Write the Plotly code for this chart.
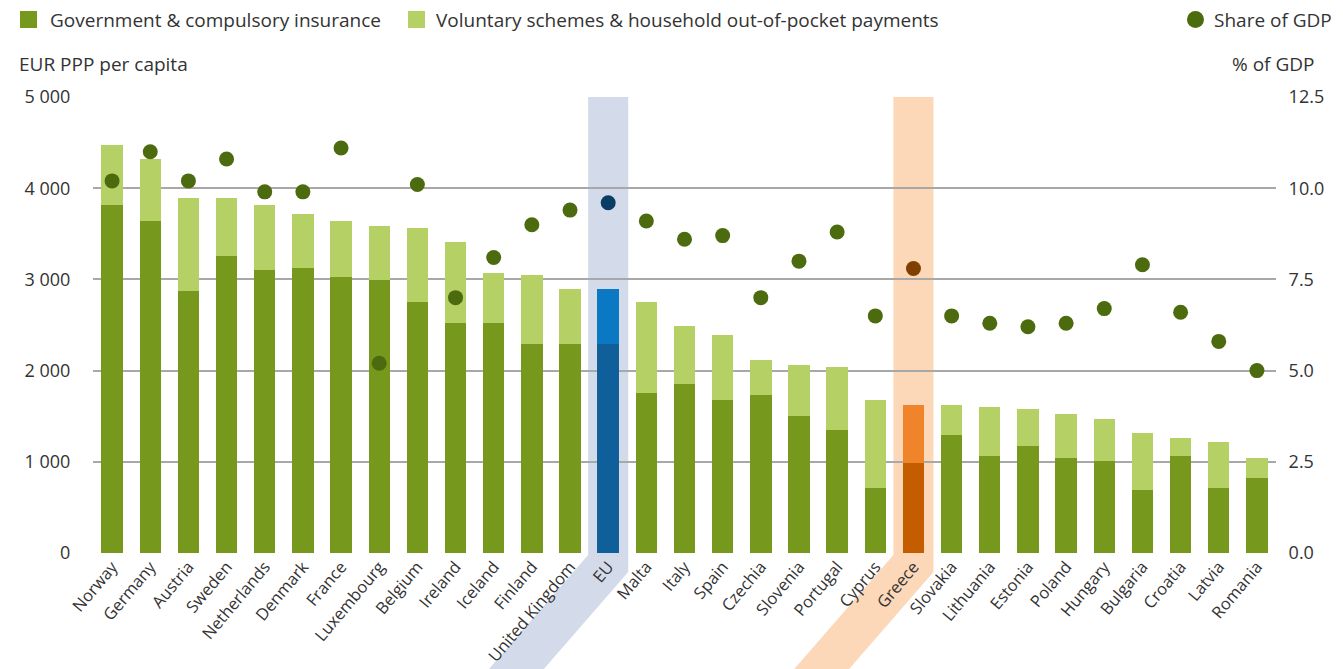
import plotly.graph_objects as go

# ---------------- data ----------------
countries = ["Norway", "Germany", "Austria", "Sweden", "Netherlands", "Denmark", "France",
             "Luxembourg", "Belgium", "Ireland", "Iceland", "Finland", "United Kingdom", "EU",
             "Malta", "Italy", "Spain", "Czechia", "Slovenia", "Portugal", "Cyprus", "Greece",
             "Slovakia", "Lithuania", "Estonia", "Poland", "Hungary", "Bulgaria", "Croatia",
             "Latvia", "Romania"]
government = [3815, 3640, 2872, 3256, 3100, 3124, 3024, 2993, 2748, 2520, 2520, 2290, 2290, 2289,
              1753, 1857, 1678, 1731, 1499, 1350, 712, 990, 1295, 1065, 1174, 1041, 1012, 688,
              1065, 712, 818]
voluntary = [657, 679, 1018, 634, 711, 588, 611, 589, 811, 885, 551, 757, 604, 605,
             995, 632, 710, 381, 559, 686, 963, 633, 328, 535, 404, 484, 458, 630,
             200, 508, 223]
share_gdp = [10.2, 11.0, 10.2, 10.8, 9.9, 9.9, 11.1, 5.2, 10.1, 7.0, 8.1, 9.0, 9.4, 9.6,
             9.1, 8.6, 8.7, 7.0, 8.0, 8.8, 6.5, 7.8, 6.5, 6.3, 6.2, 6.3, 6.7, 7.9,
             6.6, 5.8, 5.0]
left_tickvals = [0, 1000, 2000, 3000, 4000, 5000]
left_ticktext = ["0", "1 000", "2 000", "3 000", "4 000", "5 000"]
right_tickvals = [0, 2.5, 5.0, 7.5, 10.0, 12.5]
right_ticktext = ["0.0", "2.5", "5.0", "7.5", "10.0", "12.5"]

# ---------------- styles ----------------
W, H = 1343, 669
ML, MR, MT, MB = 93, 67, 97, 116
PW, PH = W - ML - MR, H - MT - MB

C_GOV, C_VOL, C_DOT = "#76981c", "#b5d065", "#4b6b0e"
special = {
    "EU": dict(gov="#0f5f9a", vol="#0a78c2", dot="#0b3c63", band="#d3daea"),
    "Greece": dict(gov="#c45c00", vol="#f0842a", dot="#7e3f00", band="#fcd8b8"),
}
FONT = "Open Sans"
FS = 19
TXT = "#333333"

gov_colors = [special[c]["gov"] if c in special else C_GOV for c in countries]
vol_colors = [special[c]["vol"] if c in special else C_VOL for c in countries]
dot_colors = [special[c]["dot"] if c in special else C_DOT for c in countries]

fig = go.Figure()
fig.add_trace(go.Bar(x=countries, y=government, name="Government & compulsory insurance",
                     marker=dict(color=gov_colors, line=dict(width=0)), width=0.56,
                     showlegend=False))
fig.add_trace(go.Bar(x=countries, y=voluntary,
                     name="Voluntary schemes & household out-of-pocket payments",
                     marker=dict(color=vol_colors, line=dict(width=0)), width=0.56,
                     showlegend=False))
fig.add_trace(go.Scatter(x=countries, y=share_gdp, yaxis="y2", mode="markers",
                         name="Share of GDP",
                         marker=dict(color=dot_colors, size=15, line=dict(width=0)),
                         showlegend=False))


def px_x(X):
    return (X - ML) / PW


def px_y(Y):
    return (H - MB - Y) / PH


n = len(countries)
shapes = []
for name, st in special.items():
    i = countries.index(name)
    xc = ML + (i + 0.5) * PW / n
    hw = 0.525 * PW / n
    yl_break, yr_break, ybot = H - MB + 2, H - MB + 19, H + 20
    k = 0.87
    xl, xr = xc - hw, xc + hw
    pts = [(xl, MT), (xr, MT), (xr, yr_break), (xr - k * (ybot - yr_break), ybot),
           (xl - k * (ybot - yl_break), ybot), (xl, yl_break)]
    path = "M " + " L ".join(f"{px_x(a):.5f},{px_y(b):.5f}" for a, b in pts) + " Z"
    shapes.append(dict(type="path", xref="paper", yref="paper", path=path,
                       fillcolor=st["band"], line=dict(width=0), layer="below"))

# legend (manual)
def sq(x0, color):
    return dict(type="rect", xref="paper", yref="paper", x0=px_x(x0), x1=px_x(x0 + 17),
                y0=px_y(28), y1=px_y(11), fillcolor=color, line=dict(width=0))

shapes.append(sq(20, C_GOV))
shapes.append(sq(408, C_VOL))
shapes.append(dict(type="circle", xref="paper", yref="paper", x0=px_x(1187), x1=px_x(1204),
                   y0=px_y(28), y1=px_y(11), fillcolor=C_DOT, line=dict(width=0)))

ann_font = dict(family=FONT, size=FS, color=TXT)
annotations = [
    dict(text="Government & compulsory insurance", x=px_x(48), y=px_y(19.5)),
    dict(text="Voluntary schemes & household out-of-pocket payments", x=px_x(434), y=px_y(19.5)),
    dict(text="Share of GDP", x=px_x(1334), y=px_y(19.5), xanchor="right"),
    dict(text="EUR PPP per capita", x=px_x(17), y=px_y(64)),
    dict(text="% of GDP", x=px_x(1316), y=px_y(64), xanchor="right"),
]
for a in annotations:
    a.setdefault("xanchor", "left")
    a.update(xref="paper", yref="paper", yanchor="middle", showarrow=False, font=ann_font)

fig.update_layout(
    width=W, height=H,
    margin=dict(l=ML, r=MR, t=MT, b=MB, pad=0, autoexpand=False),
    paper_bgcolor="white", plot_bgcolor="rgba(0,0,0,0)",
    barmode="stack", bargap=0.44,
    font=dict(family=FONT, size=FS, color=TXT),
    showlegend=False,
    shapes=shapes, annotations=annotations,
    xaxis=dict(type="category", range=[-0.5, n - 0.5], tickangle=-50, automargin=False,
               tickfont=dict(family=FONT, size=16.5, color=TXT), showgrid=False,
               showline=False, ticks=""),
    yaxis=dict(range=[0, 5000], tickvals=left_tickvals, ticktext=left_ticktext,
               automargin=False,
               showgrid=True, gridcolor="#a8a8a8", gridwidth=1.5, zeroline=False,
               ticks="outside", ticklen=18, tickcolor="rgba(0,0,0,0)",
               tickfont=dict(family=FONT, size=FS - 1, color=TXT)),
    yaxis2=dict(range=[0, 12.5], overlaying="y", side="right", tickvals=right_tickvals,
                ticktext=right_ticktext, showgrid=False, zeroline=False, automargin=False,
                ticks="outside", ticklen=8, tickcolor="rgba(0,0,0,0)",
                tickfont=dict(family=FONT, size=FS - 1, color=TXT)),
)

fig.write_html("out.html", config={"displayModeBar": False})

# remove the default page margin so the figure sits at the window's top-left corner
with open("out.html", encoding="utf-8") as f:
    html = f.read()
html = html.replace("<head>", "<head><style>html,body{margin:0;padding:0;overflow:hidden}</style>", 1)
with open("out.html", "w", encoding="utf-8") as f:
    f.write(html)
